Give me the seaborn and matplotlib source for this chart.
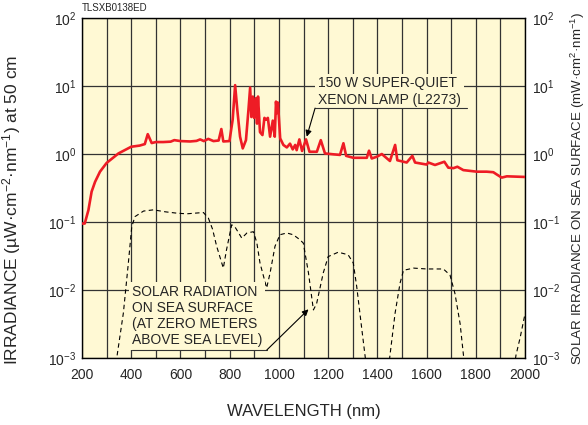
import matplotlib
matplotlib.use("Agg")
import pandas as pd
import matplotlib.pyplot as plt
import seaborn as sns

# 기본 스타일 (폰트는 set_style 뒤에 지정)
sns.set_style("white")
plt.rcParams['font.family'] = ['Liberation Sans', 'DejaVu Sans']
plt.rcParams['mathtext.fontset'] = 'custom'
plt.rcParams['mathtext.rm'] = 'Liberation Sans'
plt.rcParams['mathtext.it'] = 'Liberation Sans:italic'
plt.rcParams['mathtext.bf'] = 'Liberation Sans:bold'
plt.rcParams['mathtext.default'] = 'regular'

# 150 W 크세논 램프 스펙트럼
lamp_nm = [200, 211, 226, 239, 253, 273, 300, 348, 400, 434,
           455, 467, 483, 500, 530, 560, 575, 600, 639, 665,
           680, 695, 713, 734, 755, 766, 774, 799, 812, 822,
           831, 842, 853, 866, 876, 883, 888, 894, 899, 906,
           911, 915, 923, 933, 941, 948, 955, 964, 975, 983,
           988, 992, 996, 1005, 1018, 1032, 1045, 1056, 1066, 1072,
           1083, 1094, 1110, 1124, 1154, 1170, 1187, 1221, 1248, 1262,
           1273, 1302, 1357, 1366, 1377, 1397, 1418, 1451, 1472, 1481,
           1519, 1542, 1553, 1600, 1607, 1634, 1672, 1688, 1709, 1725,
           1749, 1804, 1844, 1871, 1885, 1905, 1926, 2000]
lamp_irr = [0.095, 0.095, 0.15, 0.28, 0.39, 0.55, 0.74, 1.02, 1.28, 1.33,
            1.40, 1.96, 1.45, 1.50, 1.50, 1.52, 1.60, 1.55, 1.53, 1.56,
            1.64, 1.55, 1.67, 1.55, 1.58, 2.33, 1.53, 1.55, 3.2, 10.3,
            4.4, 1.8, 1.21, 1.6, 4.4, 9.5, 3.5, 7.0, 3.4, 6.6,
            2.8, 7.0, 2.1, 1.9, 3.4, 3.2, 3.4, 1.8, 3.1, 1.8,
            5.9, 4.0, 5.7, 1.7, 1.36, 1.25, 1.42, 1.17, 1.36, 1.14,
            1.64, 1.11, 1.64, 1.08, 1.08, 1.6, 1.02, 0.99, 0.97, 1.44,
            0.94, 0.88, 0.88, 1.12, 0.86, 0.91, 1.0, 0.79, 1.36, 0.81,
            0.75, 0.94, 0.75, 0.70, 0.75, 0.69, 0.77, 0.63, 0.62, 0.65,
            0.58, 0.55, 0.55, 0.54, 0.50, 0.45, 0.47, 0.46]

# 해수면 태양 복사 (점선)
solar_nm = [330, 341, 368, 388, 402, 415, 450, 490, 540, 585,
            625, 693, 713, 730, 747, 774, 787, 808, 821, 849,
            870, 896, 910, 923, 950, 964, 984, 1004, 1032, 1058,
            1085, 1099, 1120, 1140, 1153, 1180, 1200, 1241, 1281, 1302,
            1316, 1337, 1351, 1362, 1440, 1452, 1472, 1492, 1506, 1547,
            1600, 1668, 1695, 1715, 1736, 1750, 1762, 1950, 1963, 1980,
            1993, 2000]
solar_irr = [0.0005, 0.001, 0.0046, 0.0245, 0.085, 0.12, 0.145, 0.151, 0.141, 0.135,
             0.132, 0.138, 0.115, 0.079, 0.044, 0.021, 0.039, 0.091, 0.085, 0.058,
             0.069, 0.072, 0.050, 0.025, 0.0107, 0.0178, 0.044, 0.065, 0.069, 0.065,
             0.055, 0.049, 0.0178, 0.0051, 0.0063, 0.0178, 0.031, 0.036, 0.033, 0.025,
             0.0112, 0.0026, 0.001, 0.0005, 0.0005, 0.00117, 0.0046, 0.0126, 0.0195, 0.021,
             0.0204, 0.0204, 0.0166, 0.0089, 0.0032, 0.00107, 0.0005, 0.0005, 0.0011, 0.002,
             0.0034, 0.0045]

x_ticks = [200, 400, 600, 800, 1000, 1200, 1400, 1600, 1800, 2000]
x_grid = list(range(200, 2001, 100))
y_ticks = [1e-3, 1e-2, 1e-1, 1e0, 1e1, 1e2]

lamp_df = pd.DataFrame({"nm": lamp_nm, "irr": lamp_irr})
solar_df = pd.DataFrame({"nm": solar_nm, "irr": solar_irr})

bg = "#FFF9D4"
fig = plt.figure(figsize=(5.88, 4.25), dpi=100)
ax = fig.add_axes([0.1395, 0.1576, 0.7535, 0.8])
ax.set_facecolor(bg)

sns.lineplot(data=solar_df, x="nm", y="irr", ax=ax, color="black",
             linewidth=0.8, linestyle="--", zorder=2)
ax.lines[-1].set_dashes([4, 3])
sns.lineplot(data=lamp_df, x="nm", y="irr", ax=ax, color="#EE1C25",
             linewidth=1.9, zorder=3)

ax.set_yscale("log")
ax.set_xlim(200, 2000)
ax.set_ylim(1e-3, 1e2)
ax.set_xticks(x_grid, minor=True)
ax.set_xticks(x_ticks)
ax.set_yticks(y_ticks)
ax.yaxis.set_minor_locator(matplotlib.ticker.NullLocator())
ax.grid(True, which="both", axis="x", color="#333333", linewidth=0.9)
ax.grid(True, which="major", axis="y", color="#333333", linewidth=0.9)
ax.set_axisbelow(True)
for s in ax.spines.values():
    s.set_color("black")
    s.set_linewidth(1)
ax.tick_params(axis="both", which="both", length=0, labelsize=10)
ax.tick_params(axis="x", pad=7)
ax.tick_params(axis="y", pad=4)
ax.set_xlabel("WAVELENGTH (nm)", fontsize=12, labelpad=16)
ax.set_ylabel("")

# 오른쪽 축
ax2 = ax.twinx()
ax2.set_yscale("log")
ax2.set_ylim(1e-3, 1e2)
ax2.set_yticks(y_ticks)
ax2.yaxis.set_minor_locator(matplotlib.ticker.NullLocator())
ax2.tick_params(axis="y", which="both", length=0, labelsize=10, pad=5)
for s in ax2.spines.values():
    s.set_visible(False)

fig.text(0.02, 0.506, "IRRADIANCE (µW·cm$^{-2}$·nm$^{-1}$) at 50 cm",
         rotation=90, ha="center", va="center", fontsize=12.5)
fig.text(0.983, 0.556, "SOLAR IRRADIANCE ON SEA SURFACE (mW·cm$^{2}$·nm$^{-1}$)",
         rotation=90, ha="center", va="center", fontsize=9.6)
fig.text(0.1395, 0.981, "TLSXB0138ED", ha="left", va="center", fontsize=7)

# 주석: 램프
ax.text(0.533, 0.784, "150 W SUPER-QUIET\nXENON LAMP (L2273)", transform=ax.transAxes,
        ha="left", va="center", fontsize=10, linespacing=1.2, zorder=4,
        bbox=dict(facecolor=bg, edgecolor="none", pad=2))
ax.plot([0.526, 0.869], [0.735, 0.735], transform=ax.transAxes, color="#333333",
        linewidth=0.8, zorder=4)
ax.annotate("", xy=(1113, 1.8), xycoords="data", xytext=(0.526, 0.735),
            textcoords="axes fraction",
            arrowprops=dict(arrowstyle="-|>", color="black", lw=0.8,
                            mutation_scale=9, shrinkA=0, shrinkB=0), zorder=5)

# 주석: 태양 복사
ax.text(0.112, 0.124, "SOLAR RADIATION\nON SEA SURFACE\n(AT ZERO METERS\nABOVE SEA LEVEL)",
        transform=ax.transAxes, ha="left", va="center", fontsize=10, linespacing=1.2,
        zorder=4, bbox=dict(facecolor=bg, edgecolor="none", pad=2))
ax.plot([0.112, 0.417], [0.0235, 0.0235], transform=ax.transAxes, color="#333333",
        linewidth=0.8, zorder=4)
ax.annotate("", xy=(1120, 0.0052), xycoords="data", xytext=(0.417, 0.0235),
            textcoords="axes fraction",
            arrowprops=dict(arrowstyle="-|>", color="black", lw=0.8,
                            mutation_scale=9, shrinkA=0, shrinkB=0), zorder=5)

fig.savefig("out.png", dpi=100, facecolor="white")
